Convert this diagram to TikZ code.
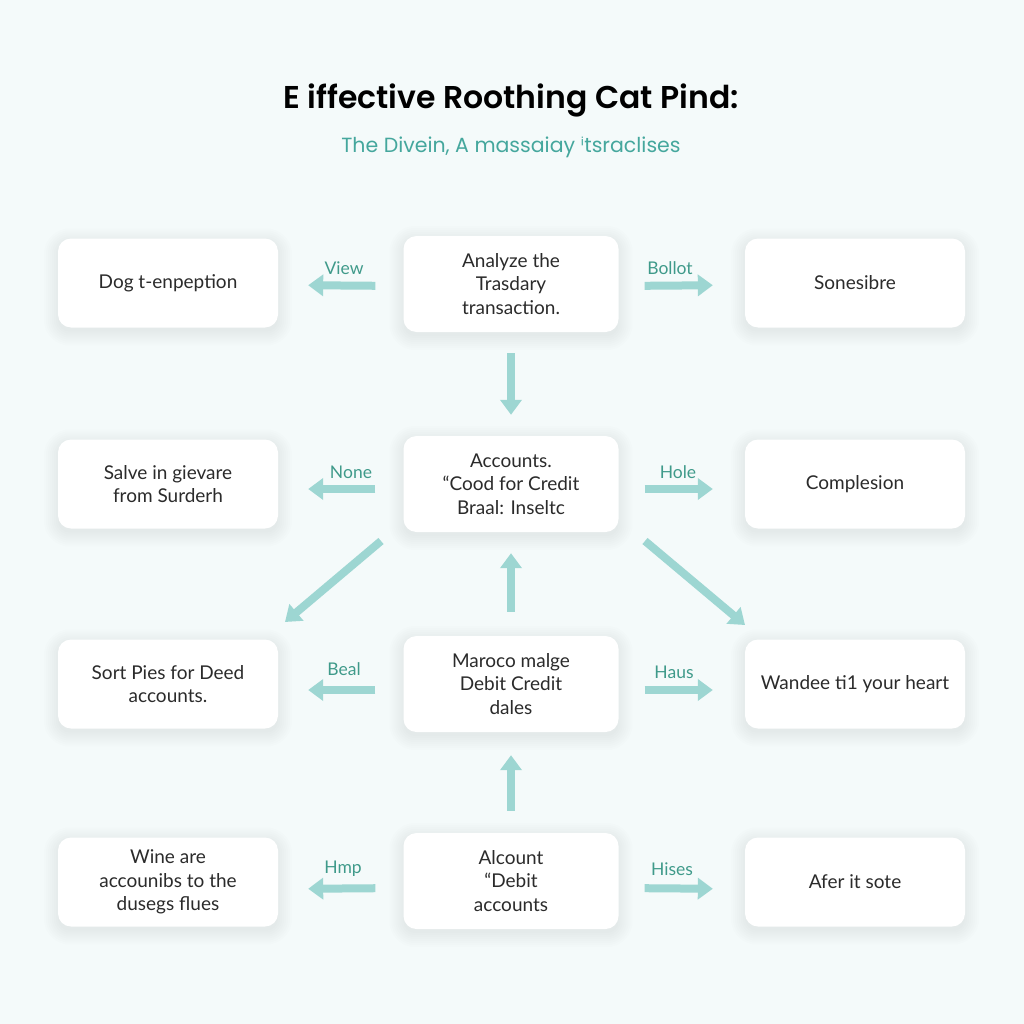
\documentclass[tikz,border=0pt]{standalone}
\usepackage{fontspec}
\setmainfont{Lato}
\newfontfamily\titlefont{Poppins}
\newfontfamily\titlebold{Poppins SemiBold}
\newfontfamily\dejavu{DejaVu Sans}
\usetikzlibrary{arrows.meta,calc,backgrounds}
\definecolor{bgc}{HTML}{F4FAFA}
\definecolor{arrc}{HTML}{9DD6D2}
\definecolor{labc}{HTML}{3F9A8A}
\definecolor{subc}{HTML}{45A79D}
\definecolor{txtc}{HTML}{2B2B2B}
\tikzset{
  card/.style={draw=none, fill=white, rounded corners=13pt, minimum width=220pt, minimum height=89pt,
    align=center, text=txtc, font=\fontsize{19}{23.5}\selectfont},
  midcard/.style={card, minimum width=215pt, minimum height=96pt},
  flow/.style={draw=arrc, line width=8pt, -{Triangle[width=21pt,length=15pt]}},
  lab/.style={text=labc, font=\fontsize{17.5}{19}\selectfont, inner sep=0pt},
  shade layer/.style={fill=black, opacity=0.007}
}
\begin{document}
\begin{tikzpicture}[x=1pt,y=-1pt]
\useasboundingbox (0,0) rectangle (1024,1024);

\node[text=black, font=\titlebold\fontsize{31.5}{36}\selectfont] (title) at (511,100) {E iffective Roothing Cat Pind:};
\node[text=subc, font=\titlefont\fontsize{20.5}{24}\selectfont] (sub) at (511,147) {The Divein, A massaiay {\dejavu ⁱ}tsraclises};

% row 1
\node[card] (l1) at (168,283) {Dog t-enpeption};
\node[midcard] (m1) at (511,284) {Analyze the\\Trasdary\\transaction.};
\node[card] (r1) at (855,283) {Sonesibre};
% row 2
\node[card] (l2) at (168,484) {Salve in gievare\\from Surderh};
\node[midcard] (m2) at (511,484) {Accounts.\\“Cood for Credit\\Braal: Inseltc};
\node[card] (r2) at (855,484) {Complesion};
% row 3
\node[card] (l3) at (168,684) {Sort Pies for Deed\\accounts.};
\node[midcard] (m3) at (511,684) {Maroco malge\\Debit Credit\\dales};
\node[card] (r3) at (855,684) {Wandee ti1 your heart};
% row 4
\node[card] (l4) at (168,882) {Wine are\\accounibs to the\\dusegs flues};
\node[midcard] (m4) at (511,881) {Alcount\\“Debit\\accounts};
\node[card] (r4) at (855,882) {Afer it sote};

\begin{scope}[on background layer]
  \fill[bgc] (0,0) rectangle (1024,1024);
  \foreach \n in {l1,m1,r1,l2,m2,r2,l3,m3,r3,l4,m4,r4}{
    \foreach \k [evaluate=\k as \rr using 12+\k] in {0,2,...,14}{
      \fill[shade layer, rounded corners=\rr pt] ($(\n.south west)+(-\k,\k+4)$) rectangle ($(\n.north east)+(\k,-\k+4)$);
    }
  }
\end{scope}

% horizontal arrows
\foreach \m/\l/\r/\dy in {m1/l1/r1/2, m2/l2/r2/5, m3/l3/r3/6, m4/l4/r4/7}{
  \draw[flow, shorten <=28pt, shorten >=30pt] ($(\m.west)+(0,\dy)$) -- ($(\l.east)+(0,\dy)$);
  \draw[flow, shorten <=26pt, shorten >=32pt] ($(\m.east)+(0,\dy)$) -- ($(\r.west)+(0,\dy)$);
}
\node[lab] (v1) at (344,268) {View};
\node[lab] (b1) at (670,268) {Bollot};
\node[lab] (v2) at (351,472) {None};
\node[lab] (b2) at (678,472) {Hole};
\node[lab] (v3) at (344,669) {Beal};
\node[lab] (b3) at (674,672) {Haus};
\node[lab] (v4) at (343,869) {Hmp};
\node[lab] (b4) at (672,869) {Hises};

% vertical arrows
\draw[flow, shorten <=21pt, shorten >=21pt] (m1.south) -- (m2.north);
\draw[flow, shorten <=24pt, shorten >=21pt] (m3.north) -- (m2.south);
\draw[flow, shorten <=22pt, shorten >=23pt] (m4.north) -- (m3.south);

% diagonal arrows
\coordinate (d1a) at (381,541);
\coordinate (d1b) at (285,622);
\coordinate (d2a) at (645,541);
\coordinate (d2b) at (745,625);
\draw[flow] (d1a) -- (d1b);
\draw[flow] (d2a) -- (d2b);
\end{tikzpicture}
\end{document}
